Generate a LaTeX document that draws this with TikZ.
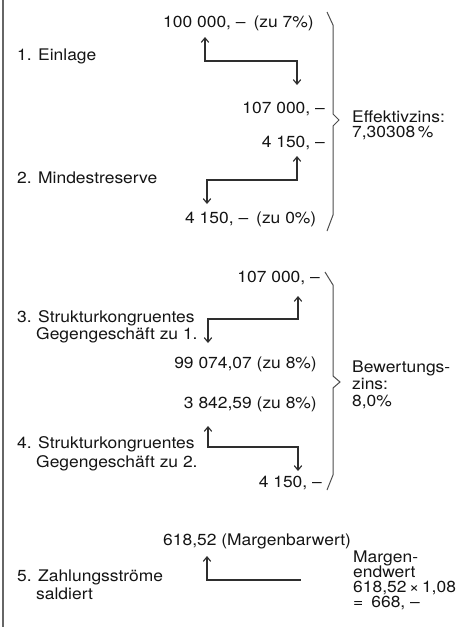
\documentclass[tikz,border=0pt]{standalone}
\usepackage{fontspec}
\setmainfont[FakeStretch=1.09]{TeX Gyre Heros}
\usetikzlibrary{arrows.meta}
\begin{document}
\begin{tikzpicture}[x=1pt,y=-1pt,
  lbl/.style={inner sep=0pt, font=\fontsize{16}{18}\selectfont, text=black!92},
  flow/.style={draw=black!82, line width=1.15pt},
  tip/.tip={Straight Barb[length=4.5pt,width=7.5pt]},
  bothtip/.style={flow, tip-tip},
  starttip/.style={flow, tip-},
  bracket/.style={draw=black!70, line width=1pt, line join=miter}]
\useasboundingbox (0,0) rectangle (463,627);
% left frame line
\draw[draw=black!60, line width=2pt] (3,0) coordinate (fl1) -- (3,627) coordinate (fl2);

% ---------- section 1 ----------
\node[lbl, anchor=base west] (v100) at (163,27) {100 000, –\enspace(zu 7\%)};
\node[lbl, anchor=base west] (einl) at (17,60) {1. Einlage};
\node[lbl, anchor=base east] (v107a) at (325,113) {107 000, –};
\node[lbl, anchor=base east] (v4150a) at (325,147) {4 150, –};
\node[lbl, anchor=base west] (mind) at (17,183) {2. Mindestreserve};
\node[lbl, anchor=base west] (v4150b) at (185,223) {4 150, –\enspace(zu 0\%)};
\node[lbl, anchor=base west] (eff1) at (352,122) {Effektivzins:};
\node[lbl, anchor=base west] (eff2) at (352,137) {7,30308\,\%};

\coordinate (s1a) at (205,37);
\coordinate (s1b) at (205,61);
\coordinate (s1c) at (297,61);
\coordinate (s1d) at (297,85);
\draw[bothtip] (s1a) -- (s1b) -- (s1c) -- (s1d);

\coordinate (s2a) at (297,156);
\coordinate (s2b) at (297,180);
\coordinate (s2c) at (207,180);
\coordinate (s2d) at (207,204);
\draw[bothtip] (s2a) -- (s2b) -- (s2c) -- (s2d);

\draw[bracket] (327,12) coordinate (br1a) -- (333,25) -- (333,114) -- (339,120) coordinate (br1tip) -- (333,126) -- (333,215) -- (327,231) coordinate (br1b);

% ---------- section 2 ----------
\node[lbl, anchor=base east] (v107b) at (320,282) {107 000, –};
\node[lbl, anchor=base west] (str3a) at (17,322) {3. Strukturkongruentes};
\node[lbl, anchor=base west] (str3b) at (36,339) {Gegengeschäft zu 1.};
\node[lbl, anchor=base east] (v9907) at (317,368) {99 074,07 (zu 8\%)};
\node[lbl, anchor=base east] (v3842) at (317,408) {3 842,59 (zu 8\%)};
\node[lbl, anchor=base west] (str4a) at (17,448) {4. Strukturkongruentes};
\node[lbl, anchor=base west] (str4b) at (36,467) {Gegengeschäft zu 2.};
\node[lbl, anchor=base east] (v4150c) at (322,487) {4 150, –};
\node[lbl, anchor=base west] (bew1) at (352,372) {Bewertungs-};
\node[lbl, anchor=base west] (bew2) at (352,389) {zins:};
\node[lbl, anchor=base west] (bew3) at (352,406) {8,0\%};

\coordinate (s3a) at (298,296);
\coordinate (s3b) at (298,319);
\coordinate (s3c) at (208,319);
\coordinate (s3d) at (208,343);
\draw[bothtip] (s3a) -- (s3b) -- (s3c) -- (s3d);

\coordinate (s4a) at (208,426);
\coordinate (s4b) at (208,447);
\coordinate (s4c) at (298,447);
\coordinate (s4d) at (298,471);
\draw[bothtip] (s4a) -- (s4b) -- (s4c) -- (s4d);

\draw[bracket] (325,272) coordinate (br2a) -- (333,285) -- (333,376) -- (340,382) coordinate (br2tip) -- (333,388) -- (333,475) -- (327,490) coordinate (br2b);

% ---------- section 3 ----------
\node[lbl, anchor=base west] (marg) at (163,545) {618,52 (Margenbarwert)};
\node[lbl, anchor=base west] (zahl1) at (17,581) {5. Zahlungsströme};
\node[lbl, anchor=base west] (zahl2) at (36,599) {saldiert};
\node[lbl, anchor=base west] (me1) at (353,562) {Margen-};
\node[lbl, anchor=base west] (me2) at (353,577) {endwert};
\node[lbl, anchor=base west] (me3) at (353,592) {618,52\,×\,1,08};
\node[lbl, anchor=base west] (me4) at (353,607) {=\enspace 668, –};

\coordinate (s5a) at (207,556);
\coordinate (s5b) at (207,580);
\coordinate (s5c) at (301,580);
\draw[starttip] (s5a) -- (s5b) -- (s5c);
\end{tikzpicture}
\end{document}
